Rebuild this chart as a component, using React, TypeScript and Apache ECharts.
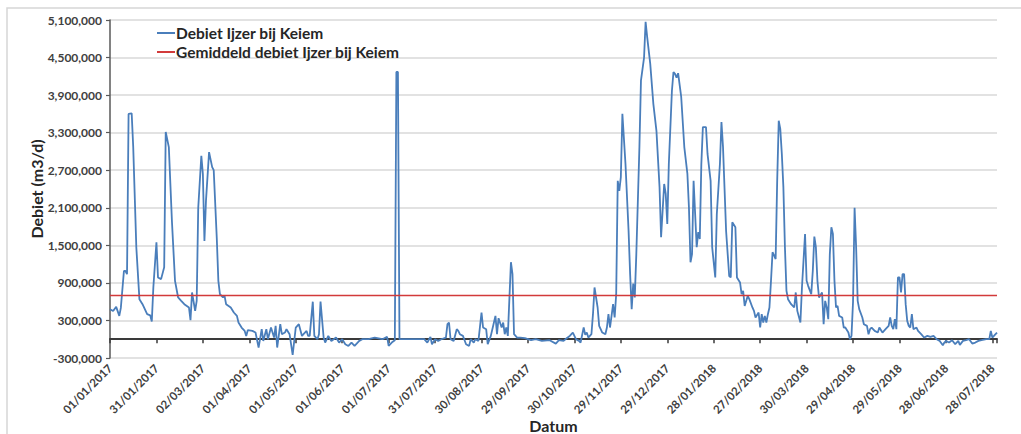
import React, { useEffect, useRef } from "react";
import * as echarts from "echarts";

const tickLabels = [
  "01/01/2017", "31/01/2017", "02/03/2017", "01/04/2017", "01/05/2017",
  "01/06/2017", "01/07/2017", "31/07/2017", "30/08/2017", "29/09/2017",
  "30/10/2017", "29/11/2017", "29/12/2017", "28/01/2018", "27/02/2018",
  "30/03/2018", "29/04/2018", "29/05/2018", "28/06/2018", "28/07/2018",
];

// day index since 01/01/2017 (one category per measured day)
const dayIndex = [
  0, 2, 4, 6, 7, 9, 10, 11, 12, 14, 15, 17, 19, 21, 24, 26, 27, 28, 30, 31,
  33, 35, 36, 38, 40, 42, 44, 46, 48, 51, 52, 53, 55, 56, 57, 59, 60, 61, 62, 64,
  66, 67, 69, 70, 71, 73, 74, 75, 78, 80, 82, 83, 85, 87, 88, 89, 92, 94, 96, 98,
  99, 101, 102, 104, 106, 107, 108, 110, 111, 113, 114, 116, 118, 120, 122, 124, 125, 127, 128, 129,
  131, 132, 134, 135, 136, 138, 139, 141, 143, 146, 148, 150, 152, 154, 156, 158, 161, 163, 167, 171,
  176, 179, 180, 182, 184, 185, 186, 187, 203, 205, 207, 208, 210, 212, 214, 217, 218, 219, 220, 222,
  224, 225, 226, 228, 230, 232, 233, 235, 236, 238, 240, 241, 243, 244, 246, 247, 249, 250, 251, 253,
  254, 255, 256, 257, 259, 260, 261, 263, 265, 268, 272, 275, 279, 284, 288, 290, 293, 295, 297, 299,
  301, 303, 304, 306, 307, 308, 309, 311, 312, 313, 315, 316, 318, 320, 321, 322, 323, 324, 325, 326,
  327, 328, 329, 330, 331, 333, 335, 336, 337, 338, 339, 340, 342, 343, 345, 346, 347, 349, 351, 353,
  355, 356, 358, 359, 360, 361, 363, 364, 365, 366, 367, 369, 371, 373, 374, 375, 376, 377, 378, 379,
  380, 381, 382, 383, 385, 386, 388, 389, 391, 392, 394, 395, 396, 398, 400, 401, 402, 404, 405, 407,
  408, 409, 410, 412, 413, 415, 416, 417, 419, 420, 421, 422, 423, 424, 425, 426, 427, 428, 429, 430,
  431, 432, 433, 434, 435, 436, 437, 438, 440, 442, 443, 444, 446, 447, 449, 450, 451, 453, 454, 455,
  456, 457, 458, 460, 461, 462, 463, 464, 465, 466, 467, 468, 469, 470, 471, 473, 474, 475, 477, 478,
  479, 480, 481, 482, 483, 484, 486, 487, 489, 490, 491, 492, 494, 496, 497, 499, 501, 503, 504, 505,
  506, 507, 508, 509, 510, 511, 512, 513, 514, 515, 516, 517, 518, 519, 521, 522, 524, 525, 526, 528,
  530, 532, 534, 536, 538, 539, 540, 542, 544, 546, 548, 549, 551, 553, 555, 557, 559, 561, 563, 566,
  568, 569, 570, 571, 573,
];

// Debiet Ijzer bij Keiem (m3/d)
const flow = [
  480000, 450000, 517000, 373000, 500000, 1090000, 1090000, 1040000, 3600000, 3610000, 3070000, 1470000, 640000, 560000, 400000, 380000, 283000, 827000, 1550000, 987000,
  960000, 1150000, 3310000, 3070000, 1890000, 933000, 667000, 613000, 560000, 507000, 304000, 747000, 453000, 613000, 2100000, 2930000, 2640000, 1570000, 2210000, 2990000,
  2750000, 2700000, 1600000, 933000, 720000, 667000, 693000, 560000, 507000, 427000, 373000, 267000, 187000, 133000, 53000, 144000, 133000, 107000, -133000, 160000,
  -27000, 160000, 0, 187000, 27000, 213000, -133000, 240000, 80000, 107000, 160000, 80000, -250000, 187000, 240000, 53000, 80000, 133000, 53000, 53000,
  600000, 53000, 0, 80000, 600000, 27000, -53000, 53000, -27000, 27000, -53000, 0, -80000, -107000, -53000, -107000, -27000, 0, 0, 27000,
  0, 37000, -107000, -53000, -16000, 4270000, 4270000, 0, 0, -53000, 37000, -80000, 0, -27000, 0, 27000, 240000, 267000, 0, -27000,
  160000, 133000, 80000, 53000, -80000, -107000, 0, -53000, 0, -27000, 427000, 187000, 160000, -80000, 53000, 160000, 373000, 80000, 336000, 187000,
  267000, 80000, 187000, 53000, 1230000, 1040000, 80000, 27000, 27000, 16000, -16000, 0, -27000, -16000, -70000, -16000, -27000, 16000, 53000, 107000,
  0, -27000, -53000, 187000, 70000, 107000, 27000, 80000, 400000, 827000, 507000, 213000, 107000, 80000, 187000, 400000, 187000, 373000, 560000, 347000,
  720000, 2530000, 2370000, 2590000, 3600000, 2800000, 1730000, 1040000, 480000, 890000, 667000, 1360000, 3070000, 4130000, 4500000, 5070000, 4830000, 4400000, 3760000, 3330000,
  2430000, 1630000, 2480000, 2320000, 1840000, 2800000, 3970000, 4270000, 4240000, 4180000, 4250000, 3870000, 3070000, 2640000, 2100000, 1230000, 1360000, 2530000, 2000000, 1470000,
  1710000, 1600000, 2800000, 3390000, 3390000, 2960000, 2530000, 1470000, 987000, 2000000, 2800000, 3470000, 3070000, 1730000, 1010000, 987000, 1870000, 1790000, 987000, 907000,
  720000, 773000, 533000, 693000, 640000, 507000, 453000, 347000, 427000, 187000, 400000, 267000, 373000, 267000, 400000, 507000, 933000, 1390000, 1340000, 1280000,
  2530000, 3490000, 3360000, 2960000, 2430000, 1470000, 773000, 640000, 560000, 507000, 747000, 453000, 267000, 827000, 1680000, 933000, 853000, 720000, 1090000, 1640000,
  1470000, 933000, 667000, 747000, 240000, 613000, 507000, 320000, 1360000, 1790000, 1680000, 933000, 507000, 533000, 373000, 347000, 187000, 187000, 107000, 0,
  53000, 600000, 2100000, 1470000, 613000, 480000, 347000, 240000, 213000, 80000, 160000, 187000, 133000, 107000, 187000, 107000, 160000, 213000, 347000, 213000,
  160000, 320000, 160000, 987000, 987000, 747000, 1040000, 1040000, 560000, 293000, 213000, 187000, 400000, 160000, 187000, 133000, 80000, 53000, 27000, 53000,
  37000, 53000, 0, -27000, -96000, -53000, -27000, -53000, -16000, -80000, -27000, -90000, -27000, -16000, 0, -70000, -53000, -27000, -16000, 0,
  0, 133000, 27000, 53000, 106000,
];

const averageFlow = 700000;
const firstDay = 0;
const lastDay = 573;

const FONT = "Lato, 'Open Sans', 'Liberation Sans', sans-serif";

export default function App() {
  const ref = useRef<HTMLDivElement>(null);

  useEffect(() => {
    if (!ref.current) return;
    const chart = echarts.init(ref.current, null, { renderer: "svg" });
    const flowData = dayIndex.map((d, i) => [d, flow[i]]);
    const avgData = [
      [firstDay, averageFlow],
      [lastDay, averageFlow],
    ];

    chart.setOption({
      animation: false,
      backgroundColor: "#ffffff",
      textStyle: { fontFamily: FONT },
      graphic: [
        {
          type: "rect",
          silent: true,
          z: -10,
          shape: { x: 7, y: 8, width: 1060, height: 460 },
          style: { fill: "none", stroke: "#d6d6d6", lineWidth: 1.5 },
        },
      ],
      grid: {
        left: 110,
        right: 24,
        top: 20,
        bottom: 76,
        containLabel: false,
        outerBoundsMode: "none",
      },
      legend: {
        left: 152,
        top: 20,
        orient: "vertical",
        itemGap: 3,
        itemWidth: 18,
        itemHeight: 2,
        icon: "rect",
        textStyle: {
          fontFamily: FONT,
          fontSize: 15.5,
          lineHeight: 16,
          fontWeight: "bold",
          color: "#262626",
          padding: [0, 0, 0, -4],
        },
        data: ["Debiet Ijzer bij Keiem", "Gemiddeld debiet Ijzer bij Keiem"],
      },
      xAxis: [
        {
          type: "value",
          min: firstDay,
          max: lastDay,
          interval: 30,
          position: "bottom",
          axisLine: { show: false, onZero: false },
          axisTick: { show: false },
          splitLine: { show: false },
          axisLabel: {
            rotate: 45,
            margin: 8,
            fontSize: 11.5,
            fontWeight: "bold",
            color: "#404040",
            fontFamily: FONT,
            showMaxLabel: false,
            formatter: (v: number) =>
              v % 30 === 0 ? tickLabels[v / 30] ?? "" : "",
          },
          name: "Datum",
          nameLocation: "middle",
          nameGap: 59,
          nameMoveOverlap: false,
          nameTextStyle: {
            fontFamily: FONT,
            fontSize: 16,
            fontWeight: "bold",
            color: "#262626",
          },
        },
        {
          type: "value",
          min: firstDay,
          max: lastDay,
          interval: 30,
          position: "bottom",
          axisLine: {
            show: true,
            onZero: true,
            lineStyle: { color: "#3a3a3a", width: 2 },
          },
          axisTick: {
            show: true,
            length: 4,
            lineStyle: { color: "#3a3a3a", width: 1.5 },
          },
          axisLabel: { show: false },
          splitLine: { show: false },
        },
      ],
      yAxis: {
        type: "value",
        min: -300000,
        max: 5100000,
        interval: 600000,
        axisLine: { show: true, onZero: false, lineStyle: { color: "#595959", width: 1.5 } },
        axisTick: { show: true, length: 4, lineStyle: { color: "#595959", width: 1.2 } },
        splitLine: { show: true, lineStyle: { color: "#d9d9d9", width: 1.5 } },
        axisLabel: {
          margin: 8,
          fontSize: 12,
          fontWeight: "bold",
          color: "#404040",
          fontFamily: FONT,
          formatter: (v: number) => v.toLocaleString("en-US"),
        },
        name: "Debiet (m3/d)",
        nameLocation: "middle",
        nameGap: 66,
        nameMoveOverlap: false,
        nameTextStyle: {
          fontFamily: FONT,
          fontSize: 16,
          fontWeight: "bold",
          color: "#262626",
        },
      },
      series: [
        {
          name: "Debiet Ijzer bij Keiem",
          type: "line",
          xAxisIndex: 0,
          data: flowData,
          showSymbol: false,
          symbol: "none",
          lineStyle: { color: "#4a7ebb", width: 1.8 },
          itemStyle: { color: "#4a7ebb" },
          z: 3,
        },
        {
          name: "Gemiddeld debiet Ijzer bij Keiem",
          type: "line",
          xAxisIndex: 0,
          data: avgData,
          showSymbol: false,
          symbol: "none",
          lineStyle: { color: "#d23a3a", width: 1.5 },
          itemStyle: { color: "#d23a3a" },
          z: 4,
        },
      ],
    });

    return () => chart.dispose();
  }, []);

  return (
    <div
      ref={ref}
      style={{ position: "fixed", left: 0, top: 0, width: 1021, height: 434 }}
    />
  );
}
